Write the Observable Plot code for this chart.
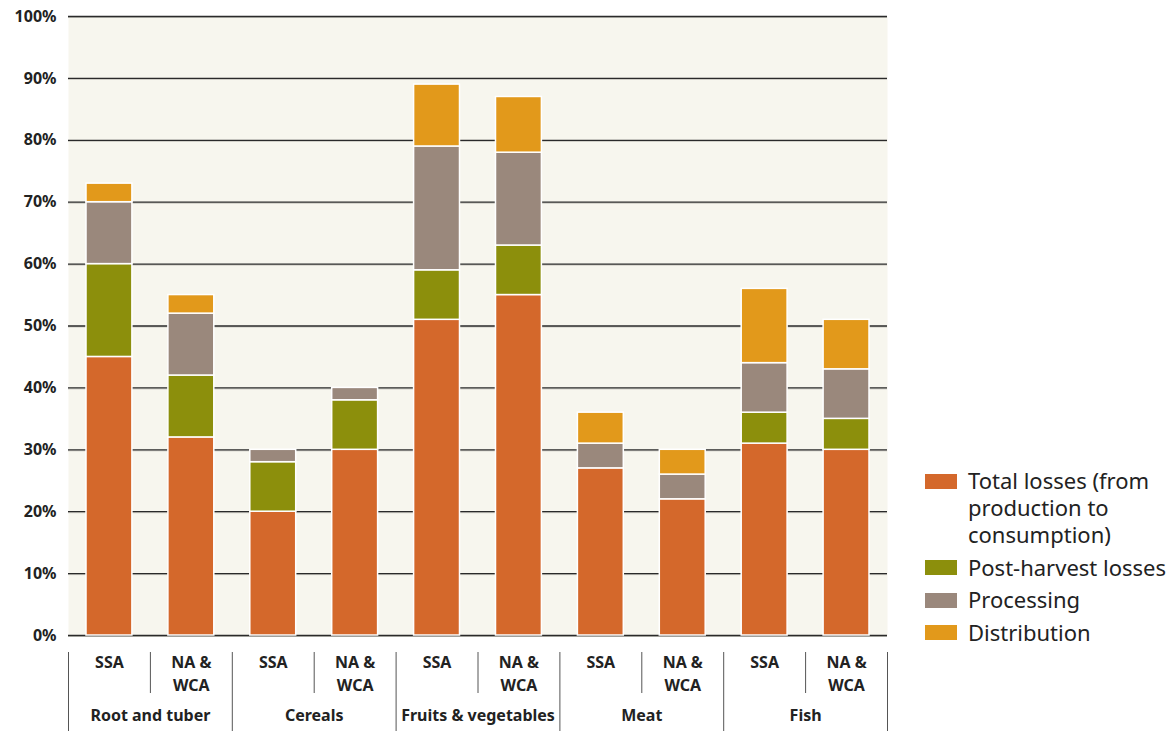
<!DOCTYPE html>
<html>
<head>
<meta charset="utf-8">
<script src="https://cdn.jsdelivr.net/npm/d3@7"></script>
<script src="https://cdn.jsdelivr.net/npm/@observablehq/plot@0.6"></script>
<style>
  html, body { margin: 0; padding: 0; background: #ffffff; }
  body { width: 1171px; height: 731px; position: relative; overflow: hidden; font-family: "Noto Sans", sans-serif; }
  #chart { position: absolute; left: 0; top: 0; }
  #legend { position: absolute; left: 925px; top: 467px; color: #222; font-size: 22px; line-height: 27px; }
  .item { display: flex; align-items: flex-start; margin-bottom: 5.5px; white-space: nowrap; }
  .sw { width: 32px; height: 15px; margin-top: 6.5px; margin-right: 11px; flex: none; }
</style>
</head>
<body>
<div id="chart"></div>
<div id="legend"></div>
<script>
// ---- data ----
const categories = ["Root and tuber", "Cereals", "Fruits & vegetables", "Meat", "Fish"];
const regions = ["SSA", "NA & WCA"];
const regionLabels = ["SSA", "NA &\nWCA"];
const series = ["Total losses (from production to consumption)", "Post-harvest losses", "Processing", "Distribution"];
const legendLabels = ["Total losses (from<br>production to<br>consumption)", "Post-harvest losses", "Processing", "Distribution"];
const colors = ["#d4682b", "#8c8f0c", "#9a887c", "#e2991b"];

// one value per bar: Root SSA, Root NA&WCA, Cereals SSA, Cereals NA&WCA, F&V SSA, F&V NA&WCA, Meat SSA, Meat NA&WCA, Fish SSA, Fish NA&WCA
const totalLosses  = [45, 32, 20, 30, 51, 55, 27, 22, 31, 30];
const postHarvest  = [15, 10,  8,  8,  8,  8,  0,  0,  5,  5];
const processing   = [10, 10,  2,  2, 20, 15,  4,  4,  8,  8];
const distribution = [ 3,  3,  0,  0, 10,  9,  5,  4, 12,  8];
const yTicks = [0, 10, 20, 30, 40, 50, 60, 70, 80, 90, 100];

// ---- table ----
const seriesValues = [totalLosses, postHarvest, processing, distribution];
const table = [];
for (let i = 0; i < totalLosses.length; i++) {
  series.forEach((s, k) => {
    table.push({
      i,
      category: categories[Math.floor(i / 2)],
      region: regions[i % 2],
      series: s,
      value: seriesValues[k][i]
    });
  });
}
const bars = d3.range(totalLosses.length).map(i => ({i, label: regionLabels[i % 2]}));
const groups = categories.map((c, g) => ({g, label: c}));
const innerBounds = d3.range(1, totalLosses.length, 2);
const groupBounds = d3.range(0, totalLosses.length + 1, 2);

const chart = Plot.plot({
  width: 900,
  height: 731,
  marginLeft: 68,
  marginRight: 13,
  marginTop: 16,
  marginBottom: 96,
  x: {domain: [0, totalLosses.length], axis: null},
  y: {domain: [0, 100], ticks: yTicks, tickFormat: d => d + "%", tickSize: 0, tickPadding: 12, label: null},
  color: {domain: series, range: colors},
  style: {fontFamily: "'Noto Sans', sans-serif", fontSize: "16px", fontWeight: "bold", color: "#222", background: "transparent", overflow: "visible"},
  marks: [
    Plot.frame({fill: "#f7f6ee", stroke: null}),
    Plot.ruleY(yTicks, {stroke: "#c9c8c0", strokeWidth: 1, dy: 1}),
    Plot.ruleY(yTicks, {stroke: "#2a2a2a", strokeWidth: 1.3}),
    Plot.rectY(table, {
      filter: d => d.value > 0,
      x1: "i", x2: d => d.i + 1, y: "value",
      fill: "series", stroke: "white", strokeWidth: 1.5,
      insetLeft: 18, insetRight: 18
    }),
    Plot.ruleX(innerBounds, {x: d => d, insetTop: 636, insetBottom: -58, stroke: "#555", strokeWidth: 1}),
    Plot.ruleX(groupBounds, {x: d => d, insetTop: 636, insetBottom: -96, stroke: "#555", strokeWidth: 1}),
    Plot.text(bars, {x: d => d.i + 0.5, text: "label", frameAnchor: "bottom", lineAnchor: "top", dy: 16, lineHeight: 1.45, fontWeight: "bold", fontSize: 16, fill: "#222"}),
    Plot.text(groups, {x: d => 2 * d.g + 1, text: "label", frameAnchor: "bottom", lineAnchor: "middle", dy: 80, fontWeight: "bold", fontSize: 16, fill: "#222"})
  ]
});
document.getElementById("chart").appendChild(chart);

// ---- legend ----
const legend = document.getElementById("legend");
series.forEach((s, k) => {
  const item = document.createElement("div");
  item.className = "item";
  item.innerHTML = `<span class="sw" style="background:${colors[k]}"></span><span>${legendLabels[k]}</span>`;
  legend.appendChild(item);
});
</script>
</body>
</html>
